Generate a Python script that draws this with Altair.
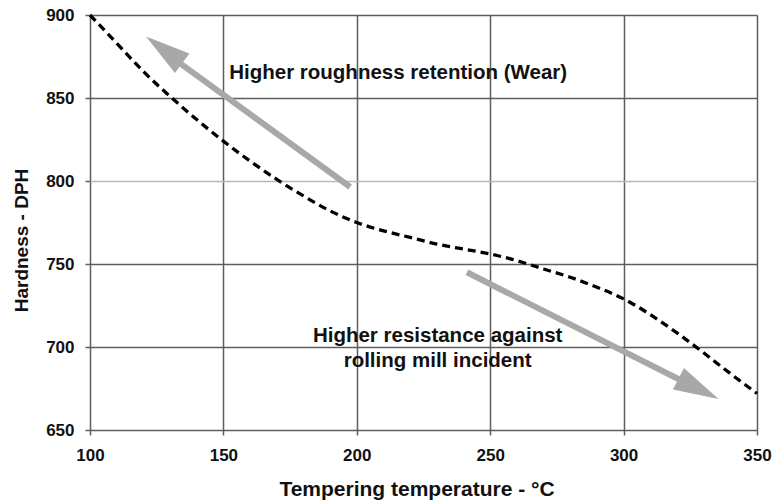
import altair as alt
import pandas as pd

# Curve: tempering temperature (°C) vs hardness (DPH)
temp = [100, 110, 120, 130, 140, 150, 160, 170, 180, 190, 200, 210, 220, 230,
        240, 250, 260, 270, 280, 290, 300, 310, 320, 330, 340, 350]
hardness = [900, 883, 866, 851, 837, 824, 812, 801, 791, 782, 775, 770, 766, 762,
            759, 756, 752, 747, 742, 736, 729, 719.5, 708.5, 696.5, 684, 672]

# Annotation arrows (data coordinates)
arrow_tail_x = [197.5, 241.3]
arrow_tail_y = [796.4, 745.0]
arrow_base_x = [132.0, 322.0]
arrow_base_y = [873.0, 679.5]
arrow_tip_x = [121.0, 335.6]
arrow_tip_y = [887.0, 668.6]
arrow_angle = [306.5, 116.9]

# Annotation texts
note_text = ["Higher roughness retention (Wear)", "Higher resistance against", "rolling mill incident"]
note_x = [215.5, 230.3, 230.3]
note_y = [861.4, 703.2, 688.2]

x_ticks = [100, 150, 200, 250, 300, 350]
y_ticks = [650, 700, 750, 800, 850, 900]

FONT = "Liberation Sans"
GRAY = "#a8a8a8"

curve_df = pd.DataFrame({"t": temp, "h": hardness})
arrow_df = pd.DataFrame({
    "x1": arrow_tail_x, "y1": arrow_tail_y,
    "x2": arrow_base_x, "y2": arrow_base_y,
    "tx": arrow_tip_x, "ty": arrow_tip_y, "ang": arrow_angle,
})
note_df = pd.DataFrame({"label": note_text, "x": note_x, "y": note_y})

xscale = alt.Scale(domain=[100, 350], nice=False, zero=False)
yscale = alt.Scale(domain=[650, 900], nice=False, zero=False)

xaxis = alt.Axis(
    values=x_ticks, title="Tempering temperature - °C", domain=False,
    grid=True, gridColor="#5e5e5e", gridWidth=1.5,
    ticks=True, tickColor="#5e5e5e", tickSize=5, tickWidth=1.5,
    labelFont=FONT, labelFontSize=17, labelFontWeight="bold", labelColor="#111",
    labelPadding=12, labelFlush=False,
    titleFont=FONT, titleFontSize=21, titleFontWeight="bold", titleColor="#111",
    titleX=326.5, titleY=65, titleBaseline="alphabetic", titleAnchor="middle",
)
yaxis = alt.Axis(
    values=y_ticks, title="Hardness - DPH", domain=False,
    grid=True,
    gridColor=alt.condition("datum.value == 800", alt.value("#b8b8b8"), alt.value("#5e5e5e")),
    gridWidth=1.5,
    ticks=True, tickColor="#5e5e5e", tickSize=5, tickWidth=1.5,
    labelFont=FONT, labelFontSize=17, labelFontWeight="bold", labelColor="#111",
    labelPadding=11, labelFlush=False,
    titleFont=FONT, titleFontSize=19, titleFontWeight="bold", titleColor="#111",
    titleX=-63, titleY=225, titleBaseline="alphabetic", titleAngle=270,
)

base = alt.Chart(curve_df).mark_line(
    color="black", strokeWidth=3.3, strokeDash=[8, 5], interpolate="natural"
).encode(
    x=alt.X("t:Q", scale=xscale, axis=xaxis),
    y=alt.Y("h:Q", scale=yscale, axis=yaxis),
)

arrows = alt.Chart(arrow_df).mark_rule(color=GRAY, strokeWidth=6).encode(
    x=alt.X("x1:Q", scale=xscale), y=alt.Y("y1:Q", scale=yscale),
    x2="x2:Q", y2="y2:Q",
)

heads = alt.Chart(arrow_df).mark_point(
    shape="M0,0L0.27,1L-0.27,1Z", filled=True, size=8100, color=GRAY, opacity=1,
    strokeWidth=0,
).encode(
    x=alt.X("tx:Q", scale=xscale), y=alt.Y("ty:Q", scale=yscale),
    angle=alt.Angle("ang:Q", scale=None),
)

notes = alt.Chart(note_df).mark_text(
    font=FONT, fontSize=20.5, fontWeight="bold", color="#111",
    align="center", baseline="alphabetic",
).encode(
    x=alt.X("x:Q", scale=xscale), y=alt.Y("y:Q", scale=yscale), text="label:N",
)

chart = alt.layer(arrows, heads, base, notes).properties(
    width=667, height=415,
    padding={"left": 90, "top": 15, "right": 17, "bottom": 73},
    autosize=alt.AutoSizeParams(type="none"),
    background="white",
).configure_view(stroke=None)

chart.save("out.html", embed_options={"renderer": "svg", "actions": False})
